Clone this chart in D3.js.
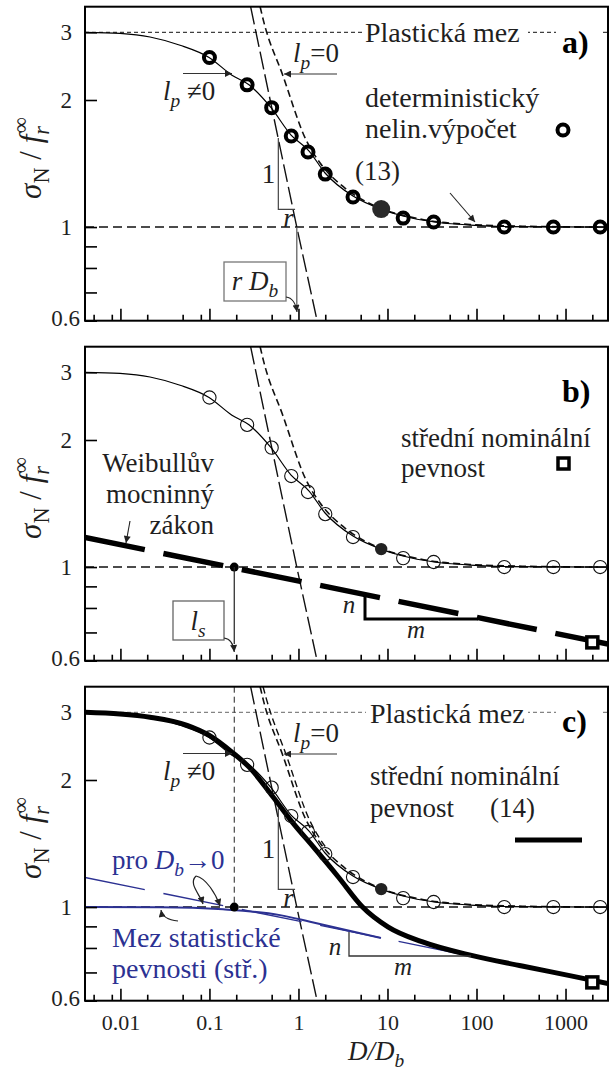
<!DOCTYPE html>
<html>
<head>
<meta charset="utf-8">
<script src="https://cdn.jsdelivr.net/npm/d3@7"></script>
<style>
  html, body { margin: 0; padding: 0; background: #fff; }
  svg { display: block; }
  text { font-family: "Liberation Serif", "Times New Roman", serif; }
</style>
</head>
<body>
<svg id="chart" width="610" height="1072"></svg>
<script>
// ---------- axes ----------
const xDomain = [0.004, 3000];
const xMajorTicks = [0.01, 0.1, 1, 10, 100, 1000];
const xMinorTicks = [0.005, 0.008, 0.02, 0.05, 0.08, 0.2, 0.5, 0.8, 2, 5, 8,
                     20, 50, 80, 200, 500, 800, 2000];
const xTickLabels = ["0.01", "0.1", "1", "10", "100", "1000"];
const yLabelTicks = [0.6, 1, 2, 3];
const yMinorTicks = [0.7, 0.8, 0.9];
const yTop = 3.48;

// ---------- size effect law (13), l_p != 0 ----------
const curveD = [0.004, 0.0099, 0.0215, 0.0468, 0.099, 0.179, 0.278, 0.492, 0.826,
                1.316, 1.99, 4.1, 8.44, 14.9, 33.4, 84.6, 205, 3000];
const curveS = [3.0, 2.98, 2.917, 2.776, 2.58, 2.32, 2.19, 1.918, 1.652,
                1.514, 1.343, 1.184, 1.103, 1.062, 1.028, 1.011, 1.003, 1.0];

// deterministic nonlinear computation
const pointD = [0.1, 0.265, 0.5, 0.83, 1.28, 2, 4.1, 15, 33, 205, 730, 2450];
const pointS = [2.58, 2.19, 1.918, 1.643, 1.506, 1.335, 1.178, 1.05, 1.028, 1.0, 1.0, 1.0];
const transD = [8.5];
const transS = [1.103];

// l_p = 0 asymptote
const lp0D = [0.371, 0.403, 0.666, 1.217, 1.75, 3.33, 8.25, 23.2, 84.6, 400, 3000];
const lp0S = [3.48, 3.22, 2.32, 1.608, 1.418, 1.237, 1.109, 1.045, 1.014, 1.004, 1.0];
const lp0bD = [0.40, 0.44, 0.73, 1.33, 2.05];
const lp0bS = [3.48, 3.22, 2.32, 1.608, 1.38];

// LEFM asymptote
const lefmD = [0.29, 0.957, 1.62];
const lefmS = [3.48, 1.0, 0.6];

// Weibull power law
const weibullD = [0.004, 3000];
const weibullS = [1.175, 0.657];
const lsD = 0.19;
const squareD = [2000];
const squareS = [0.663];

// mean nominal strength (14)
const meanD = [0.004, 0.0099, 0.0215, 0.0561, 0.0987, 0.179, 0.286, 0.519, 0.87,
               1.46, 2.79, 5.21, 10.1, 24.3, 90.3, 325, 1187, 3000];
const meanS = [3.0, 2.97, 2.914, 2.776, 2.616, 2.364, 2.148, 1.823, 1.581,
               1.39, 1.18, 1.002, 0.898, 0.828, 0.767, 0.725, 0.686, 0.659];

// mean statistical strength limit
const statD = [0.004, 0.028, 0.142, 0.621, 1.35, 8.45];
const statS = [1.0, 0.999, 0.9875, 0.957, 0.923, 0.845];

// ---------- layout ----------
const FONT = "Liberation Serif, Times New Roman, serif";
const INK = "#1f1f1f";
const BLUE = "#2c3192";
const L = 85, R = 608;
const svg = d3.select("#chart");
const x = d3.scaleLog().domain(xDomain).range([L, R]);
const yFor = T => d3.scaleLog().domain([0.6, 2, 3, yTop])
  .range([T + 320.7, T + 100, T + 32.3, T + 6.7]);

const defs = svg.append("defs");
function arrowMarker(id, color) {
  defs.append("marker").attr("id", id)
    .attr("viewBox", "0 0 10 10").attr("refX", 10).attr("refY", 5)
    .attr("markerWidth", 11).attr("markerHeight", 7)
    .attr("markerUnits", "userSpaceOnUse").attr("orient", "auto")
    .append("path").attr("d", "M0,0 L10,5 L0,10 z").attr("fill", color);
}
arrowMarker("arr", "#222");

function rich(parent, px, py, parts, o = {}) {
  const size = o.size || 27;
  const t = parent.append("text").attr("x", px).attr("y", py)
    .attr("font-family", FONT)
    .attr("font-size", size).attr("fill", o.fill || INK);
  if (o.anchor) t.attr("text-anchor", o.anchor);
  if (o.weight) t.attr("font-weight", o.weight);
  let shift = 0;
  parts.forEach(p => {
    if (typeof p === "string") p = { t: p };
    const target = p.sub ? size * 0.25 : p.sup ? -size * 0.42 : 0;
    const s = t.append("tspan").text(p.t).attr("dy", target - shift);
    shift = target;
    if (p.i) s.attr("font-style", "italic");
    if (p.sub || p.sup) s.attr("font-size", size * 0.72);
    if (p.dx) s.attr("dx", p.dx);
  });
  return t;
}

const lineGen = (y, curve) => d3.line()
  .x(d => x(d[0])).y(d => y(d[1])).curve(curve || d3.curveMonotoneX);

function drawPanel(key, T) {
  const g = svg.append("g").attr("class", "panel-" + key);
  const y = yFor(T);
  const clipId = "clip-" + key;
  defs.append("clipPath").attr("id", clipId).append("rect")
    .attr("x", L).attr("y", T + 6.7).attr("width", R - L).attr("height", 314);
  const plot = g.append("g").attr("clip-path", `url(#${clipId})`);

  // reference levels
  plot.append("line").attr("x1", L).attr("x2", R).attr("y1", y(1)).attr("y2", y(1))
    .attr("stroke", "#111").attr("stroke-width", 1.4).attr("stroke-dasharray", "9,5");
  if (key !== "b") {
    plot.append("line").attr("x1", L).attr("x2", R).attr("y1", y(3)).attr("y2", y(3))
      .attr("stroke", key === "a" ? "#111" : "#666").attr("stroke-width", 1)
      .attr("stroke-dasharray", "4,3");
  }

  const ln = lineGen(y);
  // LEFM asymptote
  plot.append("path").datum(d3.zip(lefmD, lefmS))
    .attr("d", lineGen(y, d3.curveLinear)).attr("fill", "none")
    .attr("stroke", "#111").attr("stroke-width", 1.4).attr("stroke-dasharray", "18,5");
  // l_p = 0 curve
  plot.append("path").datum(d3.zip(lp0D, lp0S)).attr("d", ln).attr("fill", "none")
    .attr("stroke", "#111").attr("stroke-width", 1.6).attr("stroke-dasharray", "7,4");
  if (key === "c") {
    plot.append("path").datum(d3.zip(lp0bD, lp0bS)).attr("d", ln).attr("fill", "none")
      .attr("stroke", "#111").attr("stroke-width", 1.4).attr("stroke-dasharray", "7,4");
  }

  // Weibull law
  if (key === "b") {
    plot.append("path").datum(d3.zip(weibullD, weibullS))
      .attr("d", lineGen(y, d3.curveLinear)).attr("fill", "none")
      .attr("stroke", "#000").attr("stroke-width", 5.5).attr("stroke-dasharray", "61,19");
  }
  if (key === "c") {
    const cid = "clip-wb";
    defs.append("clipPath").attr("id", cid).append("rect")
      .attr("x", L).attr("y", T).attr("width", x(92) - L).attr("height", 330);
    plot.append("path").datum(d3.zip(weibullD, weibullS))
      .attr("clip-path", `url(#${cid})`)
      .attr("d", lineGen(y, d3.curveLinear)).attr("fill", "none")
      .attr("stroke", BLUE).attr("stroke-width", 1.4).attr("stroke-dasharray", "61,19");
    plot.append("path").datum(d3.zip(statD, statS)).attr("d", ln).attr("fill", "none")
      .attr("stroke", BLUE).attr("stroke-width", 2);
    // vertical guide at l_s
    plot.append("line").attr("x1", x(lsD)).attr("x2", x(lsD))
      .attr("y1", T + 6.7).attr("y2", y(1))
      .attr("stroke", "#222").attr("stroke-width", 1).attr("stroke-dasharray", "6,4");
  }

  // curve (13)
  plot.append("path").datum(d3.zip(curveD, curveS)).attr("d", ln).attr("fill", "none")
    .attr("stroke", "#000").attr("stroke-width", 1.2);

  if (key === "c") {
    plot.append("path").datum(d3.zip(meanD, meanS)).attr("d", ln).attr("fill", "none")
      .attr("stroke", "#000").attr("stroke-width", 5);
  }

  // computed points
  const pts = d3.zip(pointD, pointS);
  if (key === "a") {
    plot.selectAll("circle.pt").data(pts).join("circle").attr("class", "pt")
      .attr("cx", d => x(d[0])).attr("cy", d => y(d[1])).attr("r", 5.5)
      .attr("fill", "none").attr("stroke", "#000").attr("stroke-width", 4);
    plot.selectAll("circle.tr").data(d3.zip(transD, transS)).join("circle").attr("class", "tr")
      .attr("cx", d => x(d[0])).attr("cy", d => y(d[1])).attr("r", 9).attr("fill", "#2a2a2a");
  } else {
    plot.selectAll("circle.pt").data(pts).join("circle").attr("class", "pt")
      .attr("cx", d => x(d[0])).attr("cy", d => y(d[1])).attr("r", 6.6)
      .attr("fill", "none").attr("stroke", "#111").attr("stroke-width", 1.1);
    plot.selectAll("circle.tr").data(d3.zip(transD, transS)).join("circle").attr("class", "tr")
      .attr("cx", d => x(d[0])).attr("cy", d => y(d[1])).attr("r", 6.2).attr("fill", "#222");
  }

  // Weibull end marker and l_s point
  if (key !== "a") {
    plot.selectAll("rect.sq").data(d3.zip(squareD, squareS)).join("rect").attr("class", "sq")
      .attr("x", d => x(d[0]) - 5.5).attr("y", d => y(d[1]) - 5.5)
      .attr("width", 11).attr("height", 11)
      .attr("fill", "#fff").attr("stroke", "#000").attr("stroke-width", 3.5);
    plot.append("circle").attr("cx", x(lsD)).attr("cy", y(1)).attr("r", 4.5).attr("fill", "#000");
  }

  // frame
  g.append("rect").attr("x", L).attr("y", T + 6.7).attr("width", R - L).attr("height", 314)
    .attr("fill", "none").attr("stroke", "#000").attr("stroke-width", 2);

  // axes
  const ax = g.append("g").attr("transform", `translate(${L},0)`)
    .call(d3.axisLeft(y).tickValues([...yLabelTicks, ...yMinorTicks])
      .tickSize(-12).tickPadding(13)
      .tickFormat(d => yLabelTicks.includes(d) ? String(d) : ""));
  ax.attr("font-family", FONT);
  ax.select(".domain").remove();
  ax.selectAll("line").attr("stroke", "#000").attr("stroke-width", 1.6);
  ax.selectAll("text").attr("font-size", 23).attr("fill", INK)
    .filter(d => d === 0.6).attr("x", -5).attr("dy", "0.2em");

  const bx = g.append("g").attr("transform", `translate(0,${T + 320.7})`)
    .call(d3.axisBottom(x).tickValues(xMajorTicks).tickSize(-12).tickPadding(14)
      .tickFormat((d, i) => key === "c" ? xTickLabels[i] : ""));
  bx.attr("font-family", FONT);
  bx.select(".domain").remove();
  bx.selectAll("line").attr("stroke", "#000").attr("stroke-width", 1.6);
  bx.selectAll("text").attr("font-size", 22).attr("fill", INK);
  const mx = g.append("g").attr("transform", `translate(0,${T + 320.7})`)
    .call(d3.axisBottom(x).tickValues(xMinorTicks).tickSize(-6).tickFormat(""));
  mx.select(".domain").remove();
  mx.selectAll("line").attr("stroke", "#000").attr("stroke-width", 1.6);

  // y axis title
  const yt = g.append("g").attr("transform", `translate(41,${T + 158}) rotate(-90)`);
  rich(yt, 0, 0, [{ t: "σ", i: true }, { t: "N", sub: true }, { t: " / " },
                  { t: "f", i: true }, { t: "r", i: true, sub: true }, { t: "∞", sup: true, dx: -7 }],
       { size: 31, anchor: "middle" });

  return { g, y };
}

function lpLabels(g, T) {
  g.append("line").attr("x1", 183).attr("x2", 232).attr("y1", T + 73.5).attr("y2", T + 73.5)
    .attr("stroke", "#333").attr("stroke-width", 1.2).attr("marker-end", "url(#arr)");
  rich(g, 163, T + 100, [{ t: "l", i: true }, { t: "p", i: true, sub: true }, { t: " ≠0" }]);
  g.append("line").attr("x1", 337).attr("x2", 284).attr("y1", T + 74).attr("y2", T + 74)
    .attr("stroke", "#333").attr("stroke-width", 1.2).attr("marker-end", "url(#arr)");
  rich(g, 293, T + 62, [{ t: "l", i: true }, { t: "p", i: true, sub: true }, { t: "=0" }]);
}

function slopeTriangle(g, y, topS) {
  const xv = x(0.594), xh = x(0.916), yb = y(1.101);
  g.append("path").attr("d", `M${xv},${y(topS)} L${xv},${yb} L${xh},${yb}`)
    .attr("fill", "none").attr("stroke", "#444").attr("stroke-width", 1.2);
  rich(g, xv - 3, (y(topS) + yb) / 2 + 9, ["1"], { anchor: "end" });
  rich(g, xv + 5, yb + 18, [{ t: "r", i: true }]);
}

// ---------- panel a ----------
{
  const T = 0;
  const { g, y } = drawPanel("a", T);
  g.append("rect").attr("x", 362).attr("y", T + 18).attr("width", 166).attr("height", 28).attr("fill", "#fff");
  rich(g, 365, T + 42, ["Plastická mez"], { size: 28 });
  g.append("rect").attr("x", 556).attr("y", T + 20).attr("width", 46).attr("height", 40).attr("fill", "#fff");
  rich(g, 562, T + 53, ["a)"], { size: 32, weight: "bold", fill: "#000" });

  rich(g, 365, T + 107, ["deterministický"], { size: 28 });
  rich(g, 365, T + 138, ["nelin.výpočet"], { size: 28 });
  g.append("circle").attr("cx", 563).attr("cy", T + 130).attr("r", 5.5)
    .attr("fill", "none").attr("stroke", "#000").attr("stroke-width", 4);
  rich(g, 355, T + 180, ["(13)"]);
  g.append("line").attr("x1", 450).attr("y1", T + 193).attr("x2", 475).attr("y2", T + 222)
    .attr("stroke", "#222").attr("stroke-width", 1.1).attr("marker-end", "url(#arr)");

  lpLabels(g, T);
  slopeTriangle(g, y, 1.625);

  // r D_b marker
  g.append("line").attr("x1", x(0.957)).attr("x2", x(0.957)).attr("y1", y(1) + 1).attr("y2", T + 310)
    .attr("stroke", "#777").attr("stroke-width", 1.5);
  g.append("rect").attr("x", 224).attr("y", T + 262).attr("width", 62).attr("height", 39)
    .attr("fill", "#fff").attr("stroke", "#777").attr("stroke-width", 1.3);
  rich(g, 255, T + 290, [{ t: "r", i: true }, { t: " D", i: true }, { t: "b", i: true, sub: true }],
       { anchor: "middle" });
  g.append("path").attr("d", `M286,${T + 297} Q295,${T + 298} 297,${T + 312}`)
    .attr("fill", "none").attr("stroke", "#222").attr("stroke-width", 1.1)
    .attr("marker-end", "url(#arr)");
}

// ---------- panel b ----------
{
  const T = 340;
  const { g, y } = drawPanel("b", T);
  rich(g, 562, T + 62, ["b)"], { size: 32, weight: "bold", fill: "#000" });
  rich(g, 401, T + 107, ["střední nominální"]);
  rich(g, 401, T + 137, ["pevnost"]);
  g.append("rect").attr("x", 558).attr("y", T + 118).attr("width", 11).attr("height", 11)
    .attr("fill", "#fff").attr("stroke", "#000").attr("stroke-width", 3.5);

  rich(g, 214, T + 132, ["Weibullův"], { anchor: "end" });
  rich(g, 214, T + 163, ["mocninný"], { anchor: "end" });
  rich(g, 214, T + 194, ["zákon"], { anchor: "end" });
  g.append("line").attr("x1", 130).attr("y1", T + 181).attr("x2", 126).attr("y2", T + 203)
    .attr("stroke", "#222").attr("stroke-width", 1.1).attr("marker-end", "url(#arr)");

  // n / m slope
  g.append("path").attr("d", `M365,${T + 255} L365,${T + 279} L478,${T + 279}`)
    .attr("fill", "none").attr("stroke", "#000").attr("stroke-width", 3);
  rich(g, 349, T + 273, [{ t: "n", i: true }], { size: 25, anchor: "middle" });
  rich(g, 416, T + 298, [{ t: "m", i: true }], { size: 25, anchor: "middle" });

  // l_s marker
  g.append("line").attr("x1", x(lsD)).attr("x2", x(lsD)).attr("y1", y(1)).attr("y2", T + 304)
    .attr("stroke", "#222").attr("stroke-width", 1.2);
  g.append("rect").attr("x", 173).attr("y", T + 261).attr("width", 51).attr("height", 39)
    .attr("fill", "#fff").attr("stroke", "#666").attr("stroke-width", 1.3);
  rich(g, 198, T + 290, [{ t: "l", i: true }, { t: "s", i: true, sub: true }], { anchor: "middle" });
  g.append("path").attr("d", `M224,${T + 298} Q233,${T + 299} ${x(lsD)},${T + 312}`)
    .attr("fill", "none").attr("stroke", "#222").attr("stroke-width", 1.1)
    .attr("marker-end", "url(#arr)");
}

// ---------- panel c ----------
{
  const T = 680;
  const { g, y } = drawPanel("c", T);
  g.append("rect").attr("x", 366).attr("y", T + 20).attr("width", 162).attr("height", 28).attr("fill", "#fff");
  rich(g, 370, T + 43, ["Plastická mez"], { size: 28 });
  g.append("rect").attr("x", 556).attr("y", T + 20).attr("width", 46).attr("height", 40).attr("fill", "#fff");
  rich(g, 562, T + 52, ["c)"], { size: 32, weight: "bold", fill: "#000" });

  rich(g, 370, T + 105, ["střední nominální"]);
  rich(g, 370, T + 137, ["pevnost"]);
  rich(g, 490, T + 137, ["(14)"]);
  g.append("line").attr("x1", 515).attr("x2", 582).attr("y1", T + 160).attr("y2", T + 160)
    .attr("stroke", "#000").attr("stroke-width", 5);

  lpLabels(g, T);
  slopeTriangle(g, y, 1.714);

  // n / m slope
  g.append("path").attr("d", `M349,${T + 252} L349,${T + 276} L471,${T + 276}`)
    .attr("fill", "none").attr("stroke", "#333").attr("stroke-width", 1.3);
  rich(g, 335, T + 275, [{ t: "n", i: true }], { size: 25, anchor: "middle" });
  rich(g, 403, T + 295, [{ t: "m", i: true }], { size: 25, anchor: "middle" });

  // blue annotations
  rich(g, 112, T + 189, ["pro ", { t: "D", i: true }, { t: "b", i: true, sub: true }, "→0"], { fill: BLUE });
  rich(g, 112, T + 267, ["Mez statistické"], { fill: BLUE, size: 28 });
  rich(g, 112, T + 298, ["pevnosti (stř.)"], { fill: BLUE, size: 28 });
  g.append("path").attr("d", `M196,${T + 196} C188,${T + 204} 200,${T + 214} 203,${T + 224}`)
    .attr("fill", "none").attr("stroke", "#222").attr("stroke-width", 1.2).attr("marker-end", "url(#arr)");
  g.append("path").attr("d", `M196,${T + 196} C206,${T + 198} 216,${T + 214} 220,${T + 226}`)
    .attr("fill", "none").attr("stroke", "#222").attr("stroke-width", 1.2).attr("marker-end", "url(#arr)");
  g.append("path").attr("d", `M178,${T + 241} C168,${T + 240} 162,${T + 236} 161,${T + 230}`)
    .attr("fill", "none").attr("stroke", "#222").attr("stroke-width", 1.2).attr("marker-end", "url(#arr)");

  // x axis title
  rich(g, 376, T + 380, [{ t: "D/D", i: true }, { t: "b", i: true, sub: true }],
       { size: 27, anchor: "middle" });
}
</script>
</body>
</html>
